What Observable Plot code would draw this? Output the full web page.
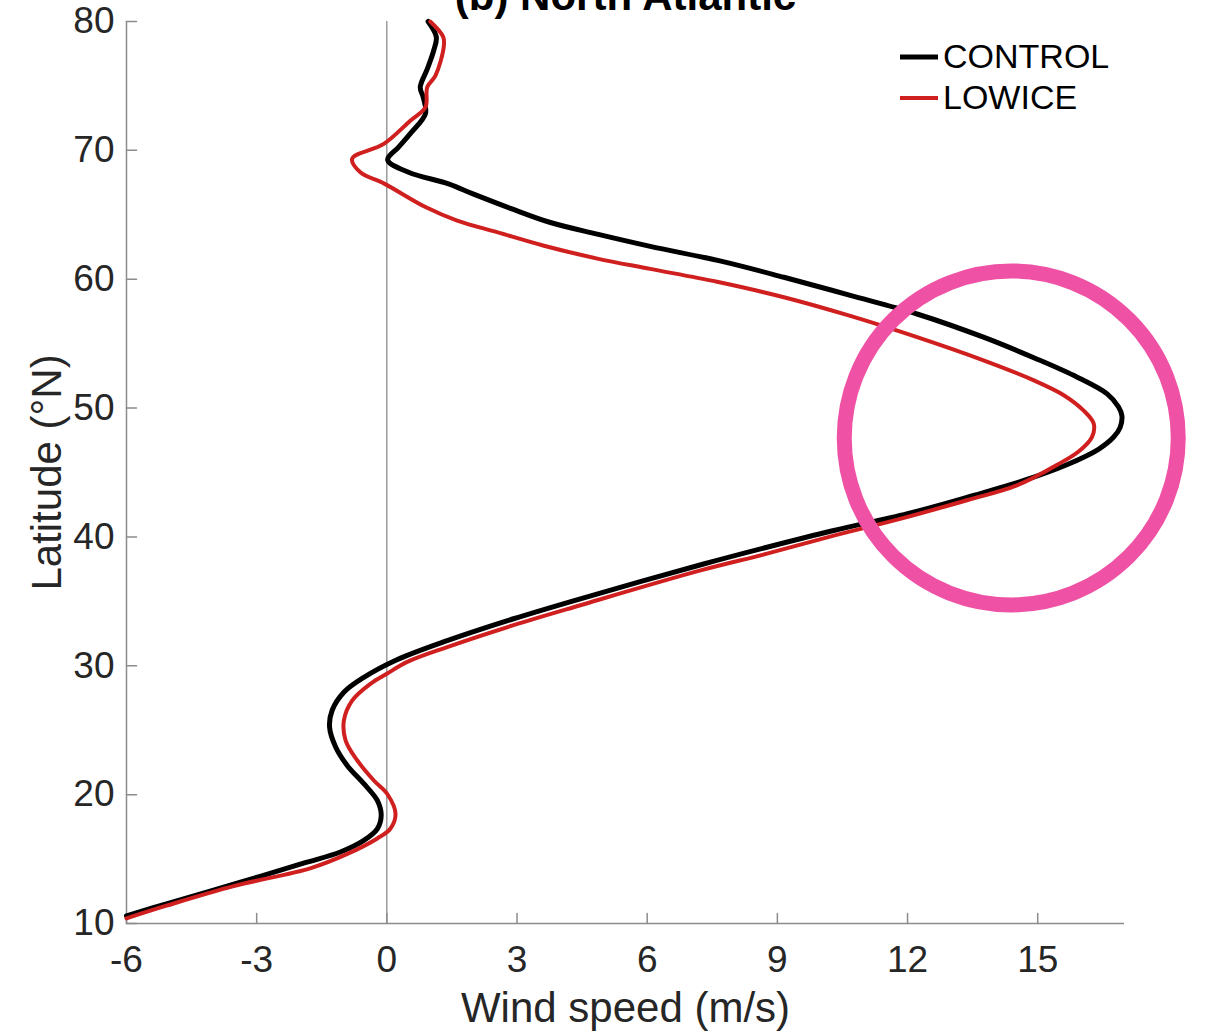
<!DOCTYPE html>
<html>
<head>
<meta charset="utf-8">
<script src="https://cdn.jsdelivr.net/npm/d3@7"></script>
<script src="https://cdn.jsdelivr.net/npm/@observablehq/plot@0.6"></script>
<style>
  html, body { margin: 0; padding: 0; background: #fff; }
  #wrap { position: relative; width: 1205px; height: 1034px; overflow: hidden; }
  #legend {
    position: absolute; left: 900px; top: 36px;
    font-family: "Liberation Sans", Arial, Helvetica, sans-serif;
    font-size: 34px; color: #000;
  }
  #legend .item { display: flex; align-items: center; height: 41px; }
  #legend svg { width: 38px; height: 10px; margin-right: 5px; }
</style>
</head>
<body>
<div id="wrap">
  <div id="chart"></div>
  <div id="legend"></div>
</div>
<script>
// Zonal-mean wind profile over the North Atlantic, two experiments
const controlLat = [80.0, 78.8, 77.75, 76.3, 74.9, 74.1, 72.85, 71.3, 70.25, 69.25, 68.3, 67.4, 66.6, 65.5, 64.4, 63.5, 62.55, 61.4, 60.15, 58.75, 57.3, 55.5, 53.85, 52.4, 51.1, 50.1, 49.4, 48.5, 47.75, 46.8, 45.6, 44.4, 43.2, 41.8, 40.5, 39.2, 37.9, 35.2, 33.65, 31.95, 30.45, 29.1, 27.95, 26.55, 25.25, 23.7, 22.25, 20.85, 19.55, 18.4, 17.35, 16.45, 15.55, 14.7, 13.05, 11.55, 10.6];
const controlWind = [0.95, 1.14, 1.08, 0.93, 0.77, 0.84, 0.89, 0.54, 0.27, 0.02, 0.50, 1.42, 2.0, 2.85, 3.77, 4.85, 6.07, 7.7, 9.15, 10.68, 12.22, 13.75, 14.95, 15.91, 16.6, 16.86, 16.94, 16.9, 16.75, 16.4, 15.67, 14.7, 13.5, 12.0, 10.3, 8.76, 7.3, 4.46, 2.92, 1.39, 0.22, -0.53, -0.99, -1.26, -1.32, -1.18, -0.91, -0.53, -0.22, -0.13, -0.22, -0.53, -1.07, -1.9, -3.53, -5.06, -6.0];

const lowiceLat = [80.0, 78.8, 78.0, 75.8, 74.9, 73.35, 72.3, 70.5, 69.35, 68.3, 67.4, 65.6, 64.55, 63.65, 62.6, 61.6, 60.8, 59.8, 58.6, 57.15, 55.5, 53.7, 52.15, 51.0, 49.8, 48.8, 47.75, 46.65, 45.6, 44.0, 42.85, 41.4, 40.1, 38.7, 37.4, 34.7, 33.15, 31.45, 30.3, 29.4, 28.6, 27.3, 25.75, 24.2, 22.65, 21.1, 20.05, 18.5, 17.35, 16.6, 15.4, 14.3, 12.9, 11.4, 10.4];
const lowiceWind = [1.0, 1.30, 1.31, 1.12, 0.93, 0.89, 0.54, -0.07, -0.80, -0.61, -0.05, 0.89, 1.62, 2.54, 3.62, 4.85, 6.07, 7.61, 9.15, 10.68, 12.22, 13.75, 14.91, 15.6, 16.06, 16.29, 16.25, 15.95, 15.45, 14.52, 13.37, 11.83, 10.3, 8.76, 7.23, 4.46, 2.92, 1.39, 0.47, 0.01, -0.38, -0.80, -0.99, -0.95, -0.68, -0.30, 0.01, 0.20, 0.08, -0.22, -0.91, -1.75, -3.53, -5.06, -6.0];

// jet-maximum region that is ringed
const highlightWind = [14.39];
const highlightLat = [47.68];

const xTicks = [-6, -3, 0, 3, 6, 9, 12, 15];
const yTicks = [10, 20, 30, 40, 50, 60, 70, 80];

const seriesNames = ["CONTROL", "LOWICE"];
const seriesColors = ["#000000", "#d01f1f"];
const seriesWidths = [5, 4];

const control = controlLat.map((lat, i) => ({lat, wind: controlWind[i]}));
const lowice = lowiceLat.map((lat, i) => ({lat, wind: lowiceWind[i]}));
const highlight = highlightLat.map((lat, i) => ({lat, wind: highlightWind[i]}));

const axisColor = "#8c8c8c";
const textColor = "#262626";
// inward tick: a short stroke from the anchor point
const tickShape = {draw(ctx, l) { ctx.moveTo(0, 0); ctx.lineTo(0, -l); }};

const chart = Plot.plot({
  width: 1205,
  height: 1034,
  marginLeft: 126,
  marginRight: 81,
  marginTop: 21,
  marginBottom: 111,
  style: {fontFamily: '"Liberation Sans", Arial, Helvetica, sans-serif', background: "#fff", color: textColor, overflow: "visible"},
  x: {domain: [-6, 17], axis: null},
  y: {domain: [10, 80], axis: null},
  marks: [
    Plot.ruleX([0], {stroke: "#6a6a6a", strokeWidth: 1}),
    Plot.ruleX([-6], {stroke: axisColor, strokeWidth: 1.5}),
    Plot.ruleY([10], {stroke: axisColor, strokeWidth: 1.5}),
    Plot.vector(xTicks, {x: d => d, y: 10, length: 10, rotate: 0, anchor: "start", shape: tickShape, stroke: axisColor, strokeWidth: 1.5}),
    Plot.vector(yTicks, {x: -6, y: d => d, length: 10, rotate: 90, anchor: "start", shape: tickShape, stroke: axisColor, strokeWidth: 1.5}),
    Plot.axisX(xTicks, {anchor: "bottom", tickSize: 0, tickPadding: 22, fontSize: 37, fill: textColor, label: null, tickFormat: d => String(d)}),
    Plot.axisY(yTicks, {anchor: "left", tickSize: 0, tickPadding: 12, fontSize: 37, fill: textColor, label: null, tickFormat: d => String(d)}),
    Plot.line(control, {x: "wind", y: "lat", curve: "catmull-rom", stroke: seriesColors[0], strokeWidth: seriesWidths[0], strokeLinejoin: "round"}),
    Plot.line(lowice, {x: "wind", y: "lat", curve: "catmull-rom", stroke: seriesColors[1], strokeWidth: seriesWidths[1], strokeLinejoin: "round"}),
    Plot.dot(highlight, {x: "wind", y: "lat", r: 167, stroke: "#ef52a5", strokeWidth: 15, fill: "none"}),
    Plot.text(["(b) North Atlantic"], {frameAnchor: "top", textAnchor: "middle", lineAnchor: "bottom", dy: -12, fontSize: 42, fontWeight: "bold", fill: "#000"}),
    Plot.text(["Wind speed (m/s)"], {frameAnchor: "bottom", textAnchor: "middle", lineAnchor: "bottom", dy: 98, fontSize: 42, fill: textColor}),
    Plot.text(["Latitude (°N)"], {frameAnchor: "left", textAnchor: "middle", lineAnchor: "bottom", dx: -66, rotate: -90, fontSize: 42, fill: textColor})
  ]
});
document.getElementById("chart").append(chart);

// legend: line sample + series name
const legend = document.getElementById("legend");
seriesNames.forEach((name, i) => {
  const item = document.createElement("div");
  item.className = "item";
  item.innerHTML = `<svg viewBox="0 0 38 10"><line x1="0" x2="38" y1="5" y2="5" stroke="${seriesColors[i]}" stroke-width="${seriesWidths[i]}"/></svg><span>${name}</span>`;
  legend.append(item);
});
</script>
</body>
</html>
